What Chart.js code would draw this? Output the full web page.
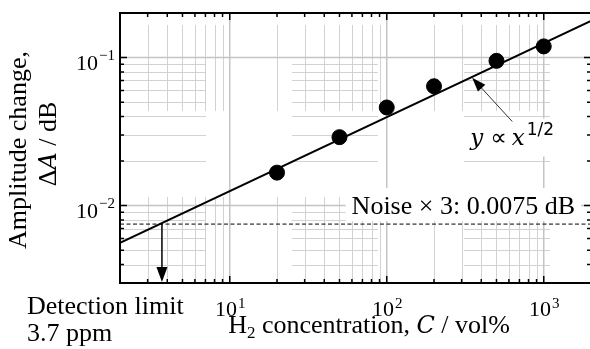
<!DOCTYPE html>
<html>
<head>
<meta charset="utf-8">
<script src="https://cdn.jsdelivr.net/npm/chart.js@4"></script>
<style>
  html, body { margin: 0; padding: 0; background: #fff; overflow: hidden; }
  #wrap { width: 590px; height: 349px; overflow: hidden; }
</style>
</head>
<body>
<div id="wrap"><canvas id="chart" width="594" height="349"></canvas></div>
<script>
// Messpunkte (H2-Konzentration in vol%, Amplitudenänderung in dB)
const concentration = [20, 50, 100, 200, 500, 1000];
const amplitude = [0.0167, 0.029, 0.046, 0.064, 0.095, 0.119];

// Ausgleichsgerade y ∝ x^(1/2), Endpunkte
const fitX = [2, 2000];
const fitY = [0.0056, 0.177];

// Rauschen x 3 und Nachweisgrenze
const noiseLevel = 0.0075;
const detectionLimit = 3.7;

// Achsenbereiche und Ticks
const xRange = [2, 2000];
const yRange = [0.003, 0.2];
const xMajor = [10, 100, 1000];
const yMajor = [0.01, 0.1];
const xMinor = [3, 4, 5, 6, 7, 8, 9, 20, 30, 40, 50, 60, 70, 80, 90, 200, 300, 400, 500, 600, 700, 800, 900];
const yMinor = [0.004, 0.005, 0.006, 0.007, 0.008, 0.009, 0.02, 0.03, 0.04, 0.05, 0.06, 0.07, 0.08, 0.09];
const xTickExp = ['1', '2', '3'];
const yTickExp = ['\u22122', '\u22121'];

// Pfeil zur Beschriftung y ∝ x^(1/2)
const arrowTip = { x: 350, y: 0.073 };
const arrowTail = { x: 630, y: 0.037 };

const SERIF = '"Liberation Serif", "Times New Roman", serif';

// Grid mit langen Strichen für Nebenlinien, Hauptlinien durchgezogen
const gridPlugin = {
  id: 'gridPlugin',
  beforeDatasetsDraw(chart) {
    const { ctx, chartArea: a, scales } = chart;
    const xs = scales.x, ys = scales.y;
    ctx.save();

    // Nebenlinien
    ctx.strokeStyle = '#d2d2d2';
    ctx.lineWidth = 1;
    ctx.setLineDash([86, 86]);
    xMinor.forEach(v => {
      const px = Math.round(xs.getPixelForValue(v)) + 0.5;
      ctx.beginPath();
      ctx.moveTo(px, a.bottom);
      ctx.lineTo(px, a.top);
      ctx.stroke();
    });
    yMinor.forEach(v => {
      const py = Math.round(ys.getPixelForValue(v)) + 0.5;
      ctx.beginPath();
      ctx.moveTo(a.left, py);
      ctx.lineTo(a.right, py);
      ctx.stroke();
    });

    // Hauptlinien
    ctx.setLineDash([]);
    ctx.strokeStyle = '#c4c4c4';
    ctx.lineWidth = 1.5;
    xMajor.forEach(v => {
      const px = xs.getPixelForValue(v);
      ctx.beginPath();
      ctx.moveTo(px, a.bottom);
      ctx.lineTo(px, a.top);
      ctx.stroke();
    });
    yMajor.forEach(v => {
      const py = ys.getPixelForValue(v);
      ctx.beginPath();
      ctx.moveTo(a.left, py);
      ctx.lineTo(a.right, py);
      ctx.stroke();
    });

    // weisse Hintergründe der Texte im Plot
    ctx.fillStyle = '#fff';
    const noiseY = ys.getPixelForValue(noiseLevel);
    ctx.font = '26px ' + SERIF;
    const nw = ctx.measureText('Noise \u00d7 3: 0.0075 dB').width;
    ctx.fillRect(a.right - 16 - nw - 6, noiseY - 36, nw + 12, 33);

    const tx = xs.getPixelForValue(arrowTail.x);
    const ty = ys.getPixelForValue(arrowTail.y);
    ctx.fillRect(tx - 54, ty - 3, 108, 38);
    ctx.restore();
  }
};

// Rahmen, Ticks, Beschriftungen, Pfeile
const framePlugin = {
  id: 'framePlugin',
  afterDatasetsDraw(chart) {
    const { ctx, chartArea: a, scales } = chart;
    const xs = scales.x, ys = scales.y;
    ctx.save();

    // Ticks nach innen
    ctx.strokeStyle = '#000';
    ctx.lineWidth = 1.5;
    const tickX = (v, len) => {
      const px = xs.getPixelForValue(v);
      ctx.beginPath();
      ctx.moveTo(px, a.bottom); ctx.lineTo(px, a.bottom - len);
      ctx.moveTo(px, a.top); ctx.lineTo(px, a.top + len);
      ctx.stroke();
    };
    const tickY = (v, len) => {
      const py = ys.getPixelForValue(v);
      ctx.beginPath();
      ctx.moveTo(a.left, py); ctx.lineTo(a.left + len, py);
      ctx.moveTo(a.right, py); ctx.lineTo(a.right - len, py);
      ctx.stroke();
    };
    xMinor.forEach(v => tickX(v, 4));
    xMajor.forEach(v => tickX(v, 7));
    yMinor.forEach(v => tickY(v, 4));
    yMajor.forEach(v => tickY(v, 7));

    // Rahmen
    ctx.lineWidth = 2;
    ctx.strokeRect(a.left, a.top, a.right - a.left, a.bottom - a.top);

    // Tick-Labels 10^n
    ctx.fillStyle = '#000';
    ctx.textBaseline = 'alphabetic';
    ctx.textAlign = 'left';
    xMajor.forEach((v, i) => {
      ctx.font = '22px ' + SERIF;
      const w1 = ctx.measureText('10').width;
      ctx.font = '15px ' + SERIF;
      const w2 = ctx.measureText(xTickExp[i]).width;
      const left = xs.getPixelForValue(v) - (w1 + w2) / 2;
      const base = a.bottom + 33;
      ctx.font = '22px ' + SERIF;
      ctx.fillText('10', left, base);
      ctx.font = '15px ' + SERIF;
      ctx.fillText(xTickExp[i], left + w1 + 1, base - 8);
    });
    yMajor.forEach((v, i) => {
      ctx.font = '22px ' + SERIF;
      const w1 = ctx.measureText('10').width;
      ctx.font = '15px ' + SERIF;
      const w2 = ctx.measureText(yTickExp[i]).width;
      const right = a.left - 5;
      const base = ys.getPixelForValue(v) + 12;
      ctx.font = '22px ' + SERIF;
      ctx.fillText('10', right - w2 - 1 - w1, base);
      ctx.font = '15px ' + SERIF;
      ctx.fillText(yTickExp[i], right - w2, base - 10);
    });

    // Nachweisgrenze: Pfeil nach unten
    const dx = xs.getPixelForValue(detectionLimit);
    const dy = ys.getPixelForValue(noiseLevel);
    ctx.lineWidth = 1.5;
    ctx.beginPath();
    ctx.moveTo(dx, dy);
    ctx.lineTo(dx, a.bottom - 12);
    ctx.stroke();
    ctx.beginPath();
    ctx.moveTo(dx, a.bottom - 1);
    ctx.lineTo(dx - 5.5, a.bottom - 16);
    ctx.lineTo(dx + 5.5, a.bottom - 16);
    ctx.closePath();
    ctx.fill();

    // Pfeil zur Geraden
    const tipX = xs.getPixelForValue(arrowTip.x), tipY = ys.getPixelForValue(arrowTip.y);
    const tailX = xs.getPixelForValue(arrowTail.x), tailY = ys.getPixelForValue(arrowTail.y);
    const ang = Math.atan2(tipY - tailY, tipX - tailX);
    ctx.strokeStyle = '#333';
    ctx.lineWidth = 1;
    ctx.beginPath();
    ctx.moveTo(tailX, tailY);
    ctx.lineTo(tipX - 10 * Math.cos(ang), tipY - 10 * Math.sin(ang));
    ctx.stroke();
    ctx.beginPath();
    ctx.moveTo(tipX, tipY);
    ctx.lineTo(tipX - 14 * Math.cos(ang) + 5 * Math.sin(ang), tipY - 14 * Math.sin(ang) - 5 * Math.cos(ang));
    ctx.lineTo(tipX - 14 * Math.cos(ang) - 5 * Math.sin(ang), tipY - 14 * Math.sin(ang) + 5 * Math.cos(ang));
    ctx.closePath();
    ctx.fill();

    // Beschriftung y ∝ x^(1/2)
    const parts = [
      { t: 'y', f: 'italic 23px "DejaVu Serif"', dy: 0, gap: 7 },
      { t: '\u221d', f: '23px "DejaVu Sans"', dy: 0, gap: 5 },
      { t: 'x', f: 'italic 23px "DejaVu Serif"', dy: 0, gap: 2 },
      { t: '1/2', f: '17px "DejaVu Sans"', dy: -10, gap: 0 }
    ];
    let total = 0;
    parts.forEach(p => { ctx.font = p.f; p.w = ctx.measureText(p.t).width; total += p.w + p.gap; });
    let px = tailX - total / 2;
    const pBase = tailY + 24;
    parts.forEach(p => {
      ctx.font = p.f;
      ctx.fillText(p.t, px, pBase + p.dy);
      px += p.w + p.gap;
    });

    // Rauschen-Beschriftung
    ctx.font = '26px ' + SERIF;
    ctx.textAlign = 'right';
    ctx.fillText('Noise \u00d7 3: 0.0075 dB', a.right - 16, dy - 10);

    // Nachweisgrenze-Text unten links
    ctx.textAlign = 'left';
    ctx.fillText('Detection limit', 27, 314);
    ctx.fillText('3.7 ppm', 27, 341);

    // x-Achsentitel: H2 concentration, C / vol%
    const xt = [
      { t: 'H', f: '26px ' + SERIF, dy: 0 },
      { t: '2', f: '17px ' + SERIF, dy: 5 },
      { t: ' concentration, ', f: '26px ' + SERIF, dy: 0 },
      { t: 'C', f: 'italic 24px "DejaVu Serif"', dy: 0 },
      { t: ' / vol%', f: '26px ' + SERIF, dy: 0 }
    ];
    let xw = 0;
    xt.forEach(p => { ctx.font = p.f; p.w = ctx.measureText(p.t).width; xw += p.w; });
    let xx = 369 - xw / 2;
    xt.forEach(p => { ctx.font = p.f; ctx.fillText(p.t, xx, 333 + p.dy); xx += p.w; });

    // y-Achsentitel, gedreht
    ctx.translate(0, 150);
    ctx.rotate(-Math.PI / 2);
    ctx.textAlign = 'center';
    ctx.font = '26px ' + SERIF;
    ctx.fillText('Amplitude change,', 0, 26);
    const yt = [
      { t: '\u0394', f: '26px ' + SERIF },
      { t: 'A', f: 'italic 24px "DejaVu Serif"' },
      { t: ' / dB', f: '26px ' + SERIF }
    ];
    let yw = 0;
    yt.forEach(p => { ctx.font = p.f; p.w = ctx.measureText(p.t).width; yw += p.w; });
    ctx.textAlign = 'left';
    let yx = 6 - yw / 2;
    yt.forEach(p => { ctx.font = p.f; ctx.fillText(p.t, yx, 56); yx += p.w; });

    ctx.restore();
  }
};

const chart = new Chart(document.getElementById('chart'), {
  type: 'scatter',
  data: {
    datasets: [
      {
        label: 'Messwerte',
        data: concentration.map((c, i) => ({ x: c, y: amplitude[i] })),
        backgroundColor: '#000',
        borderColor: '#000',
        pointRadius: 7.5,
        pointHoverRadius: 7.5
      },
      {
        type: 'line',
        label: 'Fit',
        data: fitX.map((x, i) => ({ x, y: fitY[i] })),
        borderColor: '#000',
        borderWidth: 2,
        pointRadius: 0,
        fill: false
      },
      {
        type: 'line',
        label: 'Noise x 3',
        data: xRange.map(x => ({ x, y: noiseLevel })),
        borderColor: '#000',
        borderWidth: 1,
        borderDash: [4, 2.5],
        pointRadius: 0,
        fill: false
      }
    ]
  },
  options: {
    responsive: false,
    animation: false,
    layout: { autoPadding: false, padding: { left: 120, top: 13, right: 3, bottom: 66 } },
    plugins: { legend: { display: false }, tooltip: { enabled: false } },
    scales: {
      x: { type: 'logarithmic', min: xRange[0], max: xRange[1], display: false },
      y: { type: 'logarithmic', min: yRange[0], max: yRange[1], display: false }
    }
  },
  plugins: [gridPlugin, framePlugin]
});
</script>
</body>
</html>
